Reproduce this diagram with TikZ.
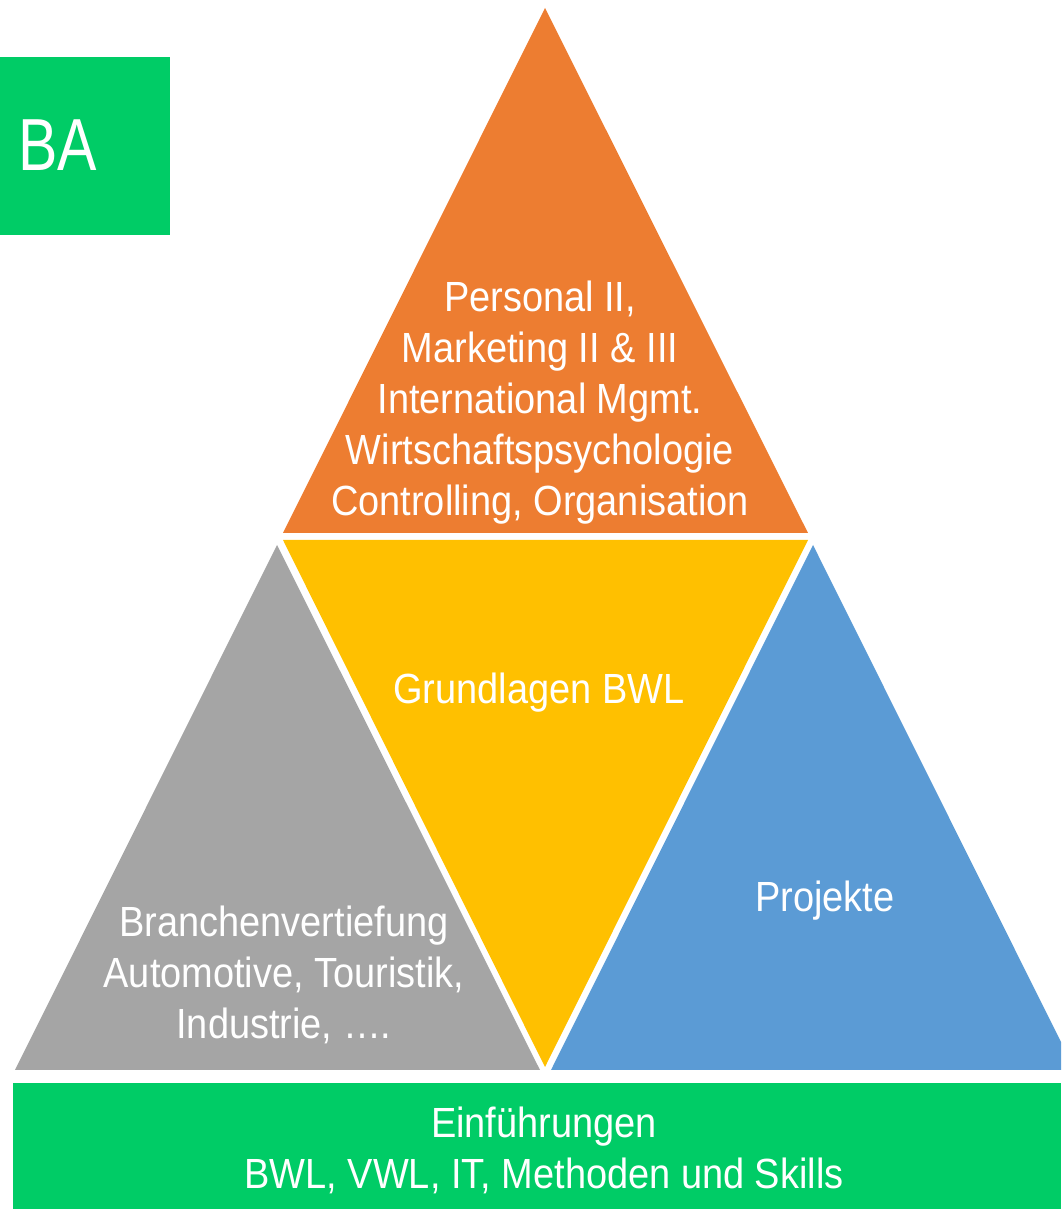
\documentclass[tikz,border=0pt]{standalone}
\usepackage{fontspec}
\setmainfont[FakeStretch=0.9]{Liberation Sans}
\newfontfamily\bafont[FakeStretch=0.8]{Liberation Sans}
\definecolor{baorange}{HTML}{ED7D31}
\definecolor{bayellow}{HTML}{FFC000}
\definecolor{bagray}{HTML}{A5A5A5}
\definecolor{bablue}{HTML}{5B9BD5}
\definecolor{bagreen}{HTML}{00CC66}

\begin{document}
\begin{tikzpicture}[
    label/.style={
        text=white, align=center, inner sep=0pt,
        font=\fontsize{12}{14.5}\selectfont
    },
    tile/.style={fill=#1, draw=none}
]

\useasboundingbox (0,0) rectangle (10.61,12.09);
\clip (0,0) rectangle (10.61,12.09);

% --- Triangles ---
\fill[tile=baorange] (5.45,12.01) -- (2.83,6.76) -- (8.08,6.76) -- cycle;
\fill[tile=bayellow] (2.83,6.69) -- (8.08,6.69) -- (5.45,1.42) -- cycle;
\fill[tile=bagray]   (2.77,6.64) -- (0.15,1.39) -- (5.40,1.39) -- cycle;
\fill[tile=bablue]   (8.13,6.64) -- (5.51,1.39) -- (10.75,1.39) -- cycle;

% --- Base bar and label box ---
\fill[tile=bagreen] (0.13,0) rectangle (10.61,1.26);
\fill[tile=bagreen] (0,9.74) rectangle (1.70,11.52);

% --- Texts ---
\node[label] (top) at (5.40, 8.06) {
    Personal II, \\
    Marketing II \& III \\
    International Mgmt. \\
    Wirtschaftspsychologie \\
    Controlling, Organisation
};

\node[label] (core) at (5.39, 5.16) {Grundlagen BWL};

\node[label] (branch) at (2.84, 2.34) {
    Branchenvertiefung \\
    Automotive, Touristik, \\
    Industrie, \dots.
};

\node[label] (proj) at (8.25, 3.08) {Projekte};

\node[label] (intro) at (5.44, 0.59) {
    Einführungen \\
    BWL, VWL, IT, Methoden und Skills
};

\node[label, font=\bafont\fontsize{21}{24}\selectfont] (ba) at (0.58, 10.64) {BA};

\end{tikzpicture}
\end{document}
